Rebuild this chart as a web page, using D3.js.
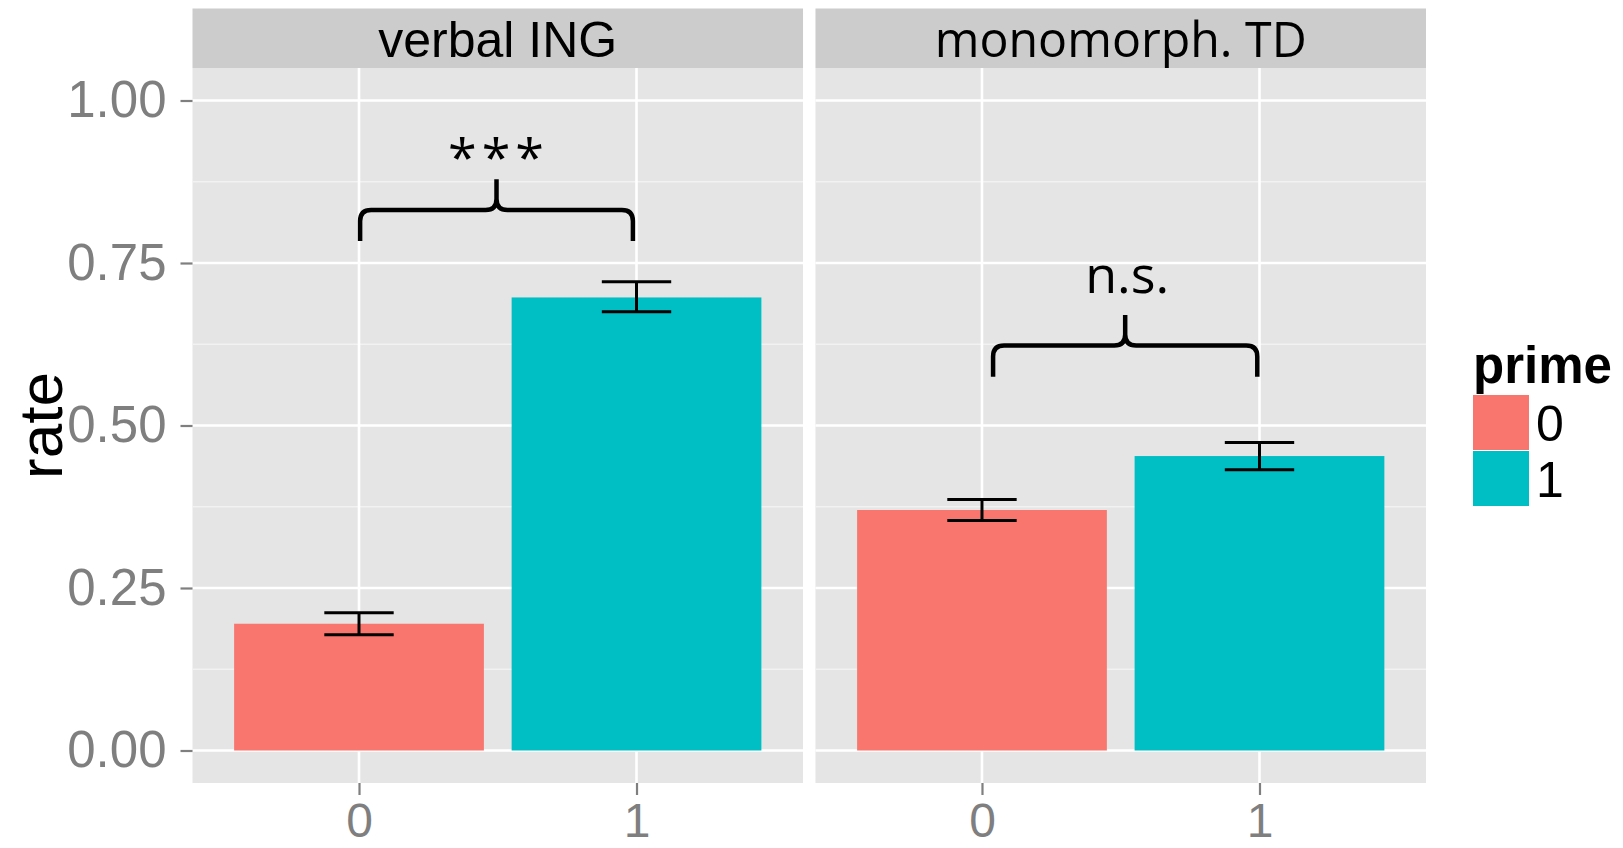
<!DOCTYPE html>
<html>
  <head>
    <meta charset="utf-8" />
    <title>Rate by prime</title>
    <script src="https://d3js.org/d3.v7.min.js"></script>
    <style>
      body {
        margin: 0;
        background: #fff;
      }
    </style>
  </head>
  <body>
    <svg id="chart"></svg>
    <script>
      // facets and groups
      var panels = ["verbal ING", "monomorph. TD"];
      var primes = ["0", "1"];

      // bar heights (rate) per panel, prime 0 then prime 1
      var rateING = [0.195, 0.697];
      var rateTD = [0.370, 0.453];

      // error bar limits
      var lowerING = [0.178, 0.675];
      var upperING = [0.212, 0.721];
      var lowerTD = [0.354, 0.432];
      var upperTD = [0.386, 0.474];

      var yTicks = [0, 0.25, 0.5, 0.75, 1];
      var yMinor = [0.125, 0.375, 0.625, 0.875];

      // significance brackets
      var braceLabels = ["***", "n.s."];
      var braceFrom = [0.004, 0.04];
      var braceTo = [0.987, 0.992];
      var braceLeg = [0.784, 0.575];
      var braceBar = [0.8315, 0.623];
      var braceTip = [0.879, 0.670];
      var labelY = [0.884, 0.704];

      var colors = ["#F8766D", "#00BFC4"];

      var width = 1623;
      var height = 848;

      var svg = d3.select("#chart")
        .attr("width", width)
        .attr("height", height)
        .style("font-family", "'Liberation Sans', Arial, sans-serif");

      var fx = d3.scaleBand()
        .domain(panels)
        .range([192.5, 1426])
        .paddingInner(0.02);

      var y = d3.scaleLinear()
        .domain([-0.05, 1.05])
        .range([783, 68]);

      var stripTop = 8.5;

      var data = [];
      panels.forEach(function(p, pi) {
        var rate = pi == 0 ? rateING : rateTD;
        var lo = pi == 0 ? lowerING : lowerTD;
        var hi = pi == 0 ? upperING : upperTD;
        primes.forEach(function(g, i) {
          data.push({panel: p, prime: g, rate: rate[i], lo: lo[i], hi: hi[i]});
        });
      });

      panels.forEach(function(p, pi) {
        var x0 = fx(p);
        var w = fx.bandwidth();
        var x = d3.scalePoint()
          .domain(primes)
          .range([x0, x0 + w])
          .padding(0.6);
        var step = x.step();

        var g = svg.append("g");

        // strip
        g.append("rect")
          .attr("x", x0).attr("y", stripTop)
          .attr("width", w).attr("height", y.range()[1] - stripTop)
          .attr("fill", "#CCCCCC");

        var strip = g.append("text")
          .attr("x", x0 + w / 2)
          .attr("y", 57)
          .attr("text-anchor", "middle")
          .attr("font-size", 50)
          .attr("fill", "#000")
          .text(p);
        if (pi == 1) {
          strip.style("font-family", "'Open Sans', sans-serif")
            .attr("textLength", 372)
            .attr("lengthAdjust", "spacingAndGlyphs");
        }

        // panel background
        g.append("rect")
          .attr("x", x0).attr("y", y.range()[1])
          .attr("width", w).attr("height", y.range()[0] - y.range()[1])
          .attr("fill", "#E5E5E5");

        // grid
        g.selectAll(".minor").data(yMinor).enter().append("line")
          .attr("x1", x0).attr("x2", x0 + w)
          .attr("y1", function(d) { return y(d); })
          .attr("y2", function(d) { return y(d); })
          .attr("stroke", "#F2F2F2").attr("stroke-width", 1.3);

        g.selectAll(".major").data(yTicks).enter().append("line")
          .attr("x1", x0).attr("x2", x0 + w)
          .attr("y1", function(d) { return y(d); })
          .attr("y2", function(d) { return y(d); })
          .attr("stroke", "#fff").attr("stroke-width", 2.6);

        g.selectAll(".vmajor").data(primes).enter().append("line")
          .attr("x1", function(d) { return x(d); })
          .attr("x2", function(d) { return x(d); })
          .attr("y1", y.range()[1]).attr("y2", y.range()[0])
          .attr("stroke", "#fff").attr("stroke-width", 2.6);

        var rows = data.filter(function(d) { return d.panel == p; });

        // bars
        g.selectAll(".bar").data(rows).enter().append("rect")
          .attr("x", function(d) { return x(d.prime) - step * 0.45; })
          .attr("width", step * 0.9)
          .attr("y", function(d) { return y(d.rate); })
          .attr("height", function(d) { return y(0) - y(d.rate); })
          .attr("fill", function(d) { return colors[primes.indexOf(d.prime)]; });

        // error bars
        var eb = g.selectAll(".err").data(rows).enter().append("g")
          .attr("stroke", "#000").attr("stroke-width", 3).attr("fill", "none");
        eb.append("line")
          .attr("x1", function(d) { return x(d.prime); })
          .attr("x2", function(d) { return x(d.prime); })
          .attr("y1", function(d) { return y(d.lo); })
          .attr("y2", function(d) { return y(d.hi); });
        eb.append("line")
          .attr("x1", function(d) { return x(d.prime) - step * 0.125; })
          .attr("x2", function(d) { return x(d.prime) + step * 0.125; })
          .attr("y1", function(d) { return y(d.lo); })
          .attr("y2", function(d) { return y(d.lo); });
        eb.append("line")
          .attr("x1", function(d) { return x(d.prime) - step * 0.125; })
          .attr("x2", function(d) { return x(d.prime) + step * 0.125; })
          .attr("y1", function(d) { return y(d.hi); })
          .attr("y2", function(d) { return y(d.hi); });

        // brace
        var xl = x("0") + step * braceFrom[pi];
        var xr = x("0") + step * braceTo[pi];
        var mid = (xl + xr) / 2;
        var yl = y(braceLeg[pi]), yb = y(braceBar[pi]), yt = y(braceTip[pi]);
        var r = 11;
        var path = d3.path();
        path.moveTo(xl, yl);
        path.lineTo(xl, yb + r);
        path.quadraticCurveTo(xl, yb, xl + r, yb);
        path.lineTo(mid - r, yb);
        path.quadraticCurveTo(mid, yb, mid, yb - r);
        path.lineTo(mid, yt);
        path.moveTo(mid, yb - r);
        path.quadraticCurveTo(mid, yb, mid + r, yb);
        path.lineTo(xr - r, yb);
        path.quadraticCurveTo(xr, yb, xr, yb + r);
        path.lineTo(xr, yl);
        g.append("path")
          .attr("d", path.toString())
          .attr("fill", "none")
          .attr("stroke", "#000")
          .attr("stroke-width", 4.5);

        g.append("text")
          .attr("x", mid + 2)
          .attr("y", y(labelY[pi]))
          .attr("text-anchor", "middle")
          .attr("font-size", 52)
          .attr("letter-spacing", pi == 0 ? 5 : 0)
          .style("font-family", "'Open Sans', sans-serif")
          .attr("fill", "#000")
          .text(braceLabels[pi]);

        // x axis
        var xAxis = d3.axisBottom(x).tickSize(12).tickPadding(8);
        var ax = g.append("g")
          .attr("transform", "translate(0," + y.range()[0] + ")")
          .call(xAxis);
        ax.select(".domain").remove();
        ax.selectAll(".tick line").attr("stroke", "#7F7F7F").attr("stroke-width", 2.2);
        ax.selectAll(".tick text")
          .attr("fill", "#7F7F7F")
          .attr("font-size", 48)
          .attr("font-family", "'Liberation Sans', Arial, sans-serif");
      });

      // y axis
      var yAxis = d3.axisLeft(y)
        .tickValues(yTicks)
        .tickFormat(d3.format(".2f"))
        .tickSize(12)
        .tickPadding(14);
      var ay = svg.append("g")
        .attr("transform", "translate(" + fx.range()[0] + ",0)")
        .call(yAxis);
      ay.select(".domain").remove();
      ay.selectAll(".tick line").attr("stroke", "#7F7F7F").attr("stroke-width", 2.2);
      ay.selectAll(".tick text")
        .attr("fill", "#7F7F7F")
        .attr("font-size", 51)
        .attr("font-family", "'Liberation Sans', Arial, sans-serif");

      svg.append("text")
        .attr("transform", "translate(62," + (y.range()[0] + y.range()[1]) / 2 + ") rotate(-90)")
        .attr("text-anchor", "middle")
        .attr("font-size", 62)
        .attr("fill", "#000")
        .text("rate");

      // legend
      var legend = svg.append("g").attr("transform", "translate(1473,0)");
      legend.append("text")
        .attr("x", 0).attr("y", 383)
        .attr("font-size", 51)
        .attr("font-weight", "bold")
        .text("prime");
      var keys = legend.selectAll(".key").data(primes).enter().append("g")
        .attr("transform", function(d, i) { return "translate(0," + (395 + i * 56) + ")"; });
      keys.append("rect")
        .attr("width", 56).attr("height", 55)
        .attr("fill", function(d, i) { return colors[i]; });
      keys.append("text")
        .attr("x", 63).attr("y", 27.5)
        .attr("dy", "0.36em")
        .attr("font-size", 50)
        .text(function(d) { return d; });
    </script>
  </body>
</html>
